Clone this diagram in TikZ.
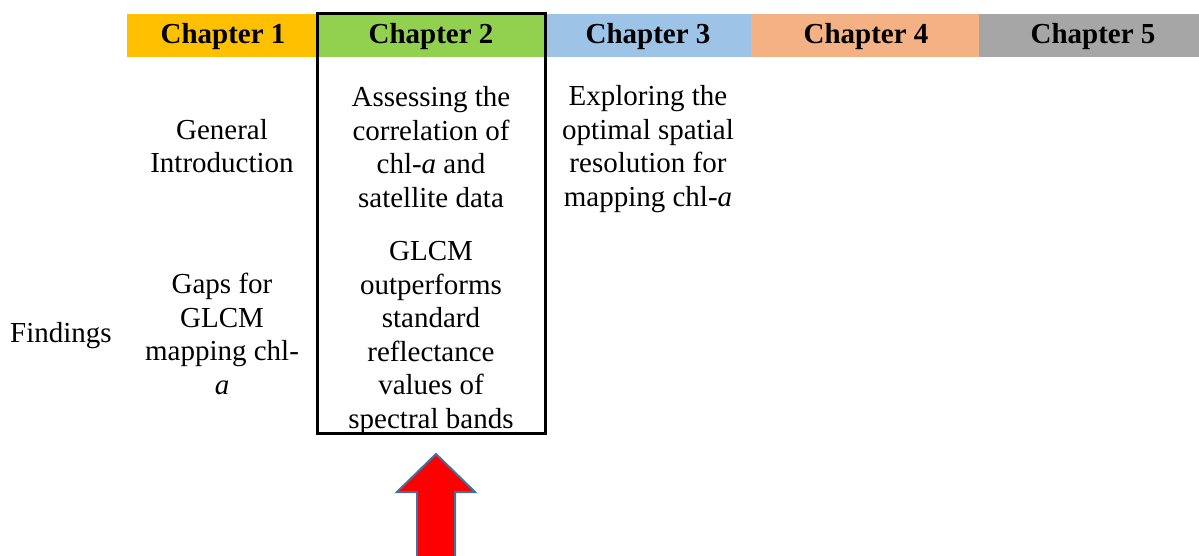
\documentclass[tikz,border=0pt]{standalone}
\usepackage{fontspec}
\setmainfont{Liberation Serif}
\definecolor{c1}{HTML}{FFC000}
\definecolor{c2}{HTML}{92D050}
\definecolor{c3}{HTML}{9DC3E6}
\definecolor{c4}{HTML}{F4B183}
\definecolor{c5}{HTML}{A6A6A6}
\definecolor{arrowedge}{HTML}{41719C}
\tikzset{
  hcell/.style={inner sep=0pt, font=\fontsize{29}{33.5}\selectfont\bfseries},
  body/.style={inner sep=0pt, align=center, font=\fontsize{29}{33.5}\selectfont},
}
\begin{document}
\begin{tikzpicture}[x=1pt,y=-1pt]
\useasboundingbox (0,0) rectangle (1199,556);
% header band
\fill[c1] (127,14) rectangle (317,57);
\fill[c2] (317,14) rectangle (545,57);
\fill[c3] (545,14) rectangle (751,57);
\fill[c4] (751,14) rectangle (979,57);
\fill[c5] (979,14) rectangle (1199,57);
\node[hcell] (h1) at (223,37) {Chapter 1};
\node[hcell] (h2) at (431,37) {Chapter 2};
\node[hcell] (h3) at (648,37) {Chapter 3};
\node[hcell] (h4) at (866,37) {Chapter 4};
\node[hcell] (h5) at (1093,37) {Chapter 5};
% chapter 2 frame
\draw[line width=3pt] (317,14) rectangle (545,433);
% texts
\node[body] (gi) at (222,146) {General\\Introduction};
\node[body] (ac) at (431,147) {Assessing the\\correlation of\\chl-\textit{a} and\\satellite data};
\node[body] (ex) at (648,149) {Exploring the\\optimal spatial\\resolution for\\mapping chl-\textit{a}};
\node[body] (fi) at (61,336) {Findings};
\node[body] (gp) at (222,334) {Gaps for\\GLCM\\mapping chl-\\\textit{a}};
\node[body] (gl) at (431,338) {GLCM\\outperforms\\standard\\reflectance\\values of\\spectral bands};
% arrow
\draw[arrowedge, line width=2pt, fill=red, line join=miter]
  (417,560) -- (417,492) -- (397,492) -- (436,454) -- (475,492) -- (455,492) -- (455,560);
\end{tikzpicture}
\end{document}
